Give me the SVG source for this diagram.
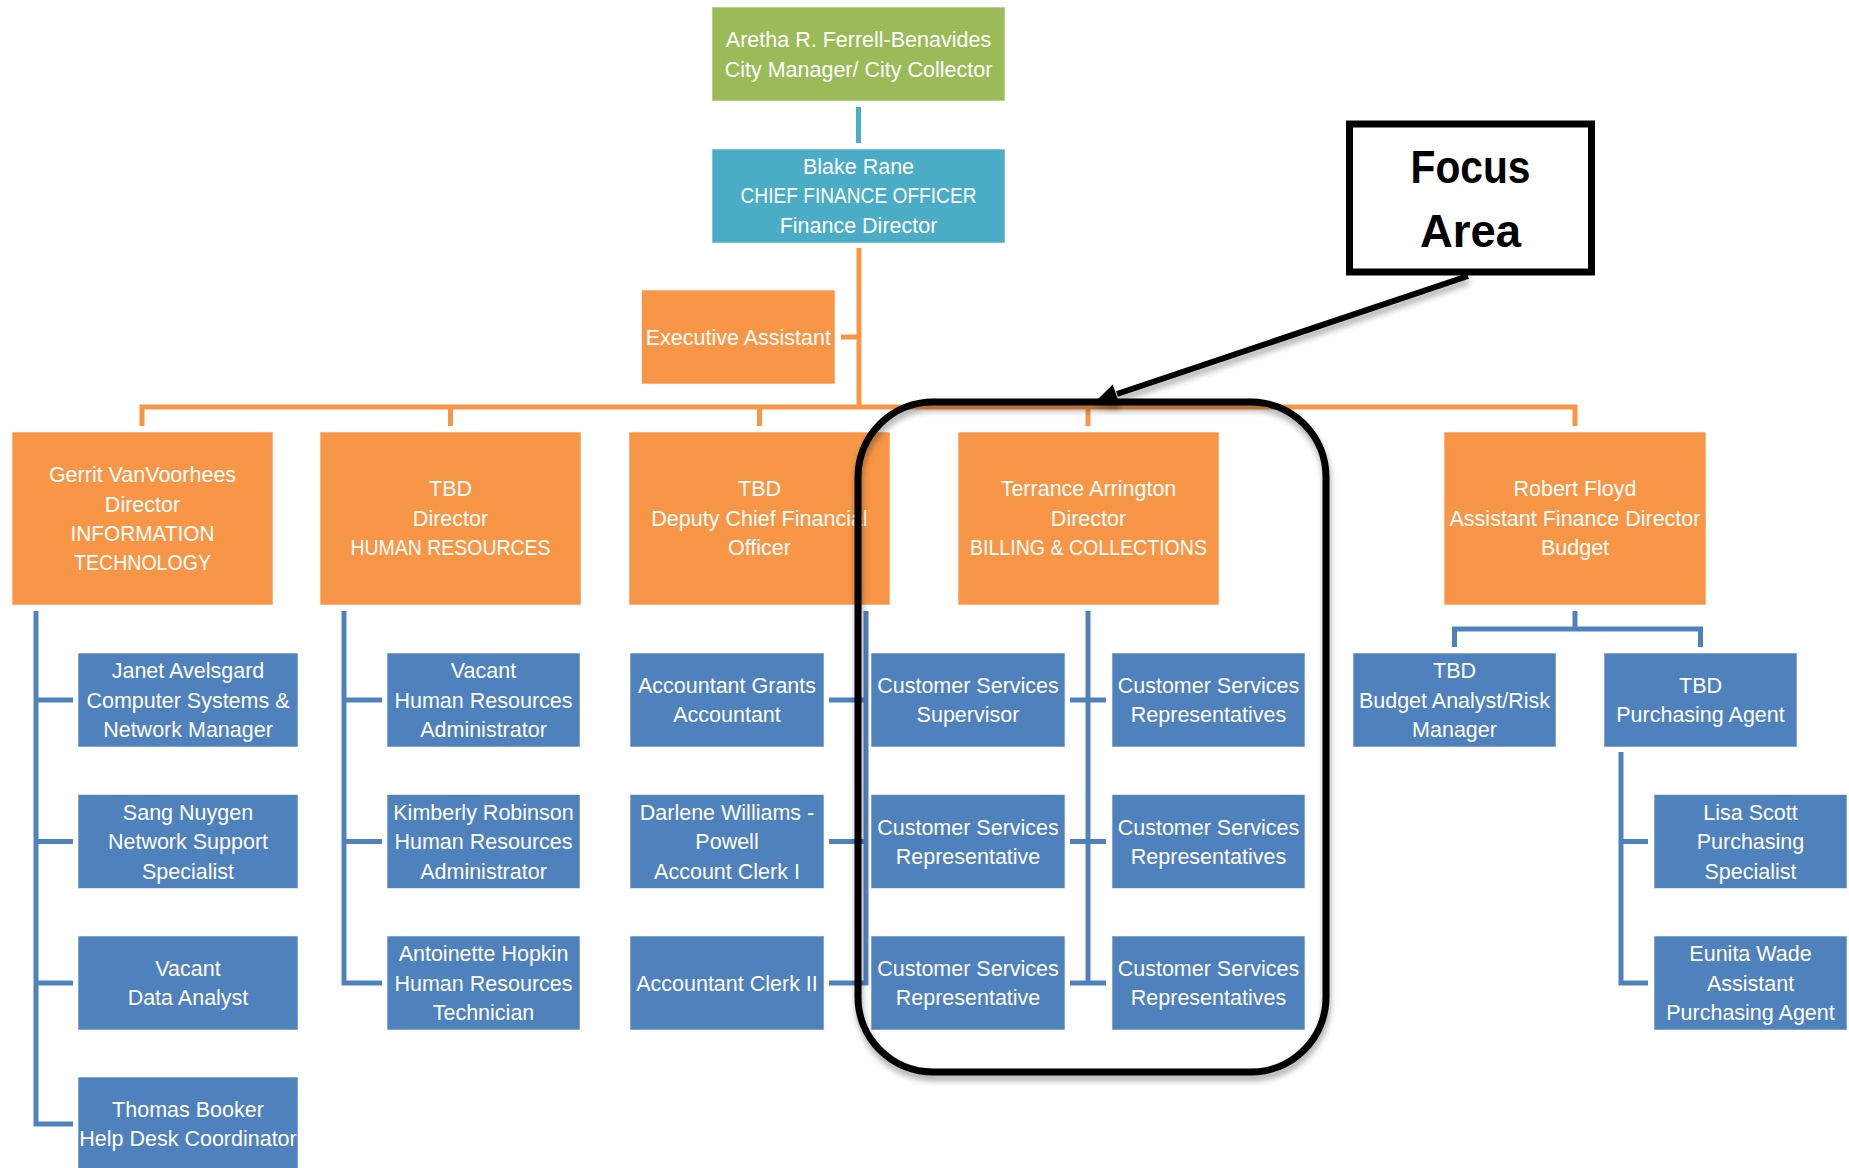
<svg xmlns="http://www.w3.org/2000/svg" width="1849" height="1168" viewBox="0 0 1849 1168">
<style>
  .t{font-family:"Liberation Sans",Arial,sans-serif;font-size:21.5px;fill:#ffffff;text-anchor:middle}
  .green{fill:#9BBB59;stroke:#ffffff;stroke-opacity:.6;stroke-width:1}
  .cyan{fill:#4BACC6;stroke:#ffffff;stroke-opacity:.6;stroke-width:1}
  .orange{fill:#F79646;stroke:#ffffff;stroke-opacity:.6;stroke-width:1}
  .blue{fill:#4F81BD;stroke:#ffffff;stroke-opacity:.6;stroke-width:1}
  .co{fill:none;stroke:#F79646;stroke-width:5}
  .cb{fill:none;stroke:#4F81BD;stroke-width:5}
  .cc{fill:none;stroke:#4BACC6;stroke-width:5}
  .focus{font-family:"Liberation Sans",Arial,sans-serif;font-weight:bold;font-size:47px;fill:#000000;text-anchor:middle}
</style>
<defs>
  <filter id="shadow" x="-10%" y="-10%" width="120%" height="125%">
    <feDropShadow dx="1" dy="5" stdDeviation="3" flood-color="#000000" flood-opacity="0.35"/>
  </filter>
</defs>
<rect width="1849" height="1168" fill="#ffffff"/>

<g id="connectors">
  <path class="cc" d="M858.5 107 V143"/>
  <path class="co" d="M859 248 V407 M841 337 H859 M142 426 V407 H1575 V426 M450.5 407 V426 M759.5 407 V426 M1088 407 V426"/>
  <path class="cb" d="M36 611 V1124 H73 M36 700 H73 M36 841.5 H73 M36 983 H73"/>
  <path class="cb" d="M344 611 V983 H382 M344 700 H382 M344 841.5 H382"/>
  <path class="cb" d="M866 611 V983 H829 M829 700 H866 M829 841.5 H866"/>
  <path class="cb" d="M1088 611 V983 M1070 700 H1106 M1070 841.5 H1106 M1070 983 H1106"/>
  <path class="cb" d="M1575 611 V629 M1454.5 647 V629 H1700.5 V647"/>
  <path class="cb" d="M1621 752 V983 H1648 M1621 841.5 H1648"/>
</g>

<g id="city-manager">
  <rect class="green" x="712" y="7" width="293" height="94"/>
  <text class="t" x="858.5" y="47.4">Aretha R. Ferrell-Benavides</text>
  <text class="t" x="858.5" y="77.1">City Manager/ City Collector</text>
</g>
<g id="cfo">
  <rect class="cyan" x="712" y="149" width="293" height="94"/>
  <text class="t" x="858.5" y="173.7">Blake Rane</text>
  <text class="t" x="858.5" y="203.2" textLength="236" lengthAdjust="spacingAndGlyphs">CHIEF FINANCE OFFICER</text>
  <text class="t" x="858.5" y="232.7">Finance Director</text>
</g>
<g id="exec-assistant">
  <rect class="orange" x="641.5" y="290" width="193.5" height="94"/>
  <text class="t" x="738.3" y="344.7">Executive Assistant</text>
</g>

<g id="it-director">
  <rect class="orange" x="12" y="432" width="261" height="173"/>
  <text class="t" x="142.5" y="482.4">Gerrit VanVoorhees</text>
  <text class="t" x="142.5" y="511.7">Director</text>
  <text class="t" x="142.5" y="541" textLength="144" lengthAdjust="spacingAndGlyphs">INFORMATION</text>
  <text class="t" x="142.5" y="570.3" textLength="137" lengthAdjust="spacingAndGlyphs">TECHNOLOGY</text>
</g>
<g id="hr-director">
  <rect class="orange" x="320" y="432" width="261" height="173"/>
  <text class="t" x="450.5" y="496.2">TBD</text>
  <text class="t" x="450.5" y="525.5">Director</text>
  <text class="t" x="450.5" y="554.8" textLength="200" lengthAdjust="spacingAndGlyphs">HUMAN RESOURCES</text>
</g>
<g id="deputy-cfo">
  <rect class="orange" x="629" y="432" width="261" height="173"/>
  <text class="t" x="759.5" y="496.2">TBD</text>
  <text class="t" x="759.5" y="525.5">Deputy Chief Financial</text>
  <text class="t" x="759.5" y="554.8">Officer</text>
</g>
<g id="billing-director">
  <rect class="orange" x="958" y="432" width="261" height="173"/>
  <text class="t" x="1088.5" y="496.2">Terrance Arrington</text>
  <text class="t" x="1088.5" y="525.5">Director</text>
  <text class="t" x="1088.5" y="554.8" textLength="237" lengthAdjust="spacingAndGlyphs">BILLING &amp; COLLECTIONS</text>
</g>
<g id="budget-director">
  <rect class="orange" x="1444" y="432" width="262" height="173"/>
  <text class="t" x="1575" y="496.2">Robert Floyd</text>
  <text class="t" x="1575" y="525.5">Assistant Finance Director</text>
  <text class="t" x="1575" y="554.8">Budget</text>
</g>

<!-- IT column -->
<g id="janet">
  <rect class="blue" x="78" y="653" width="220" height="94"/>
  <text class="t" x="188" y="678.4">Janet Avelsgard</text>
  <text class="t" x="188" y="707.7">Computer Systems &amp;</text>
  <text class="t" x="188" y="737">Network Manager</text>
</g>
<g id="sang">
  <rect class="blue" x="78" y="794.5" width="220" height="94"/>
  <text class="t" x="188" y="819.9">Sang Nuygen</text>
  <text class="t" x="188" y="849.2">Network Support</text>
  <text class="t" x="188" y="878.5">Specialist</text>
</g>
<g id="data-analyst">
  <rect class="blue" x="78" y="936" width="220" height="94"/>
  <text class="t" x="188" y="976">Vacant</text>
  <text class="t" x="188" y="1005.4">Data Analyst</text>
</g>
<g id="thomas">
  <rect class="blue" x="78" y="1077" width="220" height="94"/>
  <text class="t" x="188" y="1117">Thomas Booker</text>
  <text class="t" x="188" y="1146.4">Help Desk Coordinator</text>
</g>

<!-- HR column -->
<g id="hr-admin-vacant">
  <rect class="blue" x="387" y="653" width="193" height="94"/>
  <text class="t" x="483.5" y="678.4">Vacant</text>
  <text class="t" x="483.5" y="707.7">Human Resources</text>
  <text class="t" x="483.5" y="737">Administrator</text>
</g>
<g id="kimberly">
  <rect class="blue" x="387" y="794.5" width="193" height="94"/>
  <text class="t" x="483.5" y="819.9">Kimberly Robinson</text>
  <text class="t" x="483.5" y="849.2">Human Resources</text>
  <text class="t" x="483.5" y="878.5">Administrator</text>
</g>
<g id="antoinette">
  <rect class="blue" x="387" y="936" width="193" height="94"/>
  <text class="t" x="483.5" y="961.4">Antoinette Hopkin</text>
  <text class="t" x="483.5" y="990.7">Human Resources</text>
  <text class="t" x="483.5" y="1020">Technician</text>
</g>

<!-- Deputy column -->
<g id="grants-accountant">
  <rect class="blue" x="630" y="653" width="194" height="94"/>
  <text class="t" x="727" y="693">Accountant Grants</text>
  <text class="t" x="727" y="722.4">Accountant</text>
</g>
<g id="darlene">
  <rect class="blue" x="630" y="794.5" width="194" height="94"/>
  <text class="t" x="727" y="819.9">Darlene Williams -</text>
  <text class="t" x="727" y="849.2">Powell</text>
  <text class="t" x="727" y="878.5">Account Clerk I</text>
</g>
<g id="clerk-ii">
  <rect class="blue" x="630" y="936" width="194" height="94"/>
  <text class="t" x="727" y="990.7">Accountant Clerk II</text>
</g>

<!-- Billing columns -->
<g id="cs-supervisor">
  <rect class="blue" x="871" y="653" width="194" height="94"/>
  <text class="t" x="968" y="693">Customer Services</text>
  <text class="t" x="968" y="722.4">Supervisor</text>
</g>
<g id="cs-rep-1">
  <rect class="blue" x="871" y="794.5" width="194" height="94"/>
  <text class="t" x="968" y="834.5">Customer Services</text>
  <text class="t" x="968" y="863.9">Representative</text>
</g>
<g id="cs-rep-2">
  <rect class="blue" x="871" y="936" width="194" height="94"/>
  <text class="t" x="968" y="976">Customer Services</text>
  <text class="t" x="968" y="1005.4">Representative</text>
</g>
<g id="cs-reps-1">
  <rect class="blue" x="1112" y="653" width="193" height="94"/>
  <text class="t" x="1208.5" y="693">Customer Services</text>
  <text class="t" x="1208.5" y="722.4">Representatives</text>
</g>
<g id="cs-reps-2">
  <rect class="blue" x="1112" y="794.5" width="193" height="94"/>
  <text class="t" x="1208.5" y="834.5">Customer Services</text>
  <text class="t" x="1208.5" y="863.9">Representatives</text>
</g>
<g id="cs-reps-3">
  <rect class="blue" x="1112" y="936" width="193" height="94"/>
  <text class="t" x="1208.5" y="976">Customer Services</text>
  <text class="t" x="1208.5" y="1005.4">Representatives</text>
</g>

<!-- Budget column -->
<g id="budget-analyst">
  <rect class="blue" x="1353" y="653" width="203" height="94"/>
  <text class="t" x="1454.5" y="678.4">TBD</text>
  <text class="t" x="1454.5" y="707.7">Budget Analyst/Risk</text>
  <text class="t" x="1454.5" y="737">Manager</text>
</g>
<g id="purchasing-agent">
  <rect class="blue" x="1604" y="653" width="193" height="94"/>
  <text class="t" x="1700.5" y="693">TBD</text>
  <text class="t" x="1700.5" y="722.4">Purchasing Agent</text>
</g>
<g id="lisa">
  <rect class="blue" x="1654" y="794.5" width="193" height="94"/>
  <text class="t" x="1750.5" y="819.9">Lisa Scott</text>
  <text class="t" x="1750.5" y="849.2">Purchasing</text>
  <text class="t" x="1750.5" y="878.5">Specialist</text>
</g>
<g id="eunita">
  <rect class="blue" x="1654" y="936" width="193" height="94"/>
  <text class="t" x="1750.5" y="961.4">Eunita Wade</text>
  <text class="t" x="1750.5" y="990.7">Assistant</text>
  <text class="t" x="1750.5" y="1020">Purchasing Agent</text>
</g>

<!-- Focus annotation -->
<g id="focus-region">
  <rect x="858" y="402" width="468" height="670" rx="75" ry="75" fill="none" stroke="#000000" stroke-width="7" filter="url(#shadow)"/>
</g>
<g id="focus-label">
  <rect x="1349.5" y="124" width="242" height="148" fill="#ffffff" stroke="#000000" stroke-width="7"/>
  <text class="focus" x="1470.5" y="182.5" textLength="120" lengthAdjust="spacingAndGlyphs">Focus</text>
  <text class="focus" x="1470.5" y="246.5" textLength="101" lengthAdjust="spacingAndGlyphs">Area</text>
</g>
<g id="focus-arrow" filter="url(#shadow)">
  <path d="M1468 276 L1117 394" fill="none" stroke="#000000" stroke-width="6"/>
  <polygon points="1095,402 1112.7,384.5 1119.5,404.5" fill="#000000"/>
</g>
</svg>
